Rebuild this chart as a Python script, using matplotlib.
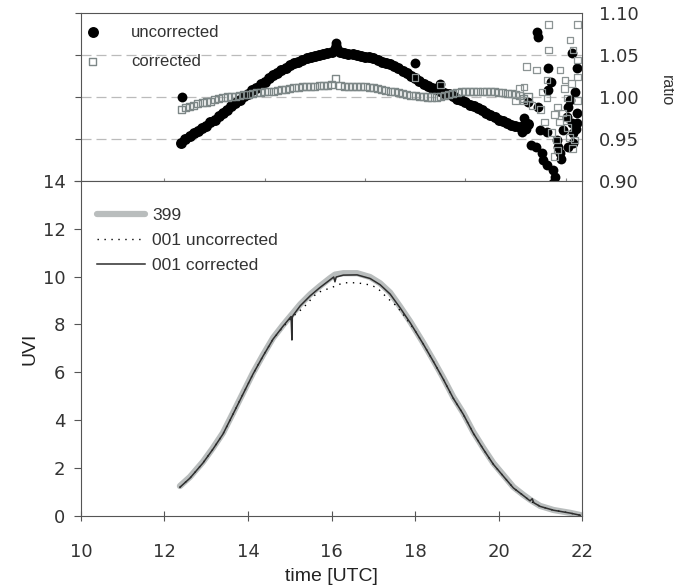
import matplotlib
matplotlib.use("Agg")
import matplotlib.pyplot as plt

# ---- ratio panel: smooth part, one reading every 0.1 h ----
t_ratio = [12.4, 12.5, 12.6, 12.7, 12.8, 12.9, 13.0, 13.1, 13.2, 13.3,
           13.4, 13.5, 13.6, 13.7, 13.8, 13.9, 14.0, 14.1, 14.2, 14.3,
           14.4, 14.5, 14.6, 14.7, 14.8, 14.9, 15.0, 15.1, 15.2, 15.3,
           15.4, 15.5, 15.6, 15.7, 15.8, 15.9, 16.0, 16.1, 16.2, 16.3,
           16.4, 16.5, 16.6, 16.7, 16.8, 16.9, 17.0, 17.1, 17.2, 17.3,
           17.4, 17.5, 17.6, 17.7, 17.8, 17.9, 18.0, 18.1, 18.2, 18.3,
           18.4, 18.5, 18.6, 18.7, 18.8, 18.9, 19.0, 19.1, 19.2, 19.3,
           19.4, 19.5, 19.6, 19.7, 19.8, 19.9, 20.0, 20.1, 20.2, 20.3,
           20.4, 20.5, 20.6, 20.7]
ratio_uncorr = [0.945, 0.950, 0.954, 0.957, 0.960, 0.963, 0.966, 0.970, 0.973, 0.977,
                0.981, 0.985, 0.989, 0.993, 0.997, 1.001, 1.004, 1.008, 1.011, 1.015,
                1.018, 1.022, 1.026, 1.029, 1.032, 1.035, 1.038, 1.040, 1.042, 1.044,
                1.046, 1.048, 1.049, 1.050, 1.051, 1.052, 1.053, 1.060, 1.054, 1.052,
                1.051, 1.051, 1.050, 1.049, 1.048, 1.047, 1.046, 1.044, 1.042, 1.041,
                1.039, 1.037, 1.034, 1.031, 1.028, 1.025, 1.022, 1.019, 1.016, 1.013,
                1.011, 1.009, 1.007, 1.005, 1.003, 1.001, 0.998, 0.996, 0.994, 0.991,
                0.989, 0.987, 0.984, 0.981, 0.978, 0.976, 0.973, 0.971, 0.969, 0.967,
                0.965, 0.964, 0.966, 0.968]
ratio_corr = [0.985, 0.987, 0.989, 0.990, 0.992, 0.993, 0.994, 0.995, 0.997, 0.998,
              0.999, 1.000, 1.001, 1.001, 1.002, 1.003, 1.003, 1.004, 1.005, 1.005,
              1.006, 1.007, 1.007, 1.008, 1.009, 1.009, 1.010, 1.011, 1.011, 1.012,
              1.012, 1.013, 1.013, 1.014, 1.014, 1.014, 1.015, 1.022, 1.014, 1.013,
              1.013, 1.013, 1.012, 1.012, 1.012, 1.011, 1.011, 1.010, 1.009, 1.008,
              1.007, 1.006, 1.005, 1.004, 1.003, 1.002, 1.002, 1.001, 1.001, 1.000,
              1.000, 1.000, 1.001, 1.002, 1.003, 1.004, 1.005, 1.006, 1.006, 1.007,
              1.007, 1.007, 1.007, 1.006, 1.006, 1.006, 1.005, 1.005, 1.004, 1.004,
              1.003, 1.002, 0.998, 1.000]

# scattered readings (outliers and the noisy end of the day)
t_unc_x = [12.42, 16.1, 18.0, 18.6, 20.55, 20.6, 20.65, 20.71, 20.78, 20.9,
           20.92, 20.95, 20.95, 20.99, 21.04, 21.07, 21.16, 21.16, 21.19, 21.19,
           21.24, 21.3, 21.3, 21.35, 21.4, 21.42, 21.47, 21.5, 21.54, 21.64,
           21.66, 21.66, 21.71, 21.76, 21.76, 21.78, 21.78, 21.83, 21.85, 21.88,
           21.88, 21.88]
r_unc_x = [1.000, 1.064, 1.040, 1.016, 0.958, 0.975, 0.962, 0.994, 0.943, 0.940,
           1.077, 1.071, 0.988, 0.961, 0.933, 0.925, 0.919, 0.958, 1.035, 1.008,
           1.018, 0.913, 0.898, 0.905, 0.949, 0.940, 0.933, 0.926, 0.961, 0.976,
           0.988, 0.940, 0.996, 0.969, 1.052, 0.957, 0.945, 1.006, 0.962, 1.035,
           0.981, 0.969]
t_cor_x = [18.0, 18.6, 20.4, 20.5, 20.59, 20.6, 20.66, 20.8, 20.9, 21.0,
           21.04, 21.1, 21.16, 21.16, 21.19, 21.19, 21.26, 21.33, 21.33, 21.38,
           21.4, 21.4, 21.45, 21.47, 21.52, 21.57, 21.59, 21.62, 21.64, 21.64,
           21.69, 21.71, 21.74, 21.76, 21.78, 21.81, 21.88, 21.88, 21.88, 21.88]
r_cor_x = [1.023, 1.014, 0.996, 1.010, 0.996, 1.012, 1.036, 0.990, 1.032, 0.985,
           1.006, 0.970, 1.020, 0.999, 1.086, 1.056, 0.958, 0.979, 0.929, 0.949,
           0.988, 0.937, 0.970, 1.032, 0.981, 1.010, 1.020, 0.975, 0.964, 0.999,
           0.952, 1.068, 1.016, 0.939, 1.056, 0.949, 1.086, 1.044, 0.996, 1.024]

# ---- UVI panel ----
t_399 = [12.37, 12.61, 12.92, 13.16, 13.40, 13.64, 13.88, 14.12, 14.36, 14.60,
         14.84, 15.05, 15.25, 15.49, 15.72, 15.96, 16.08, 16.28, 16.61, 16.92,
         17.16, 17.40, 17.64, 17.88, 18.00, 18.19, 18.43, 18.67, 18.91, 19.15,
         19.39, 19.63, 19.87, 20.11, 20.35, 20.59, 20.75, 20.99, 21.31, 21.71,
         21.95]
uvi_399 = [1.25, 1.63, 2.26, 2.84, 3.47, 4.30, 5.14, 5.98, 6.73, 7.44,
           7.98, 8.42, 8.84, 9.26, 9.60, 9.93, 10.08, 10.14, 10.14, 9.98,
           9.72, 9.33, 8.74, 8.12, 7.78, 7.24, 6.52, 5.77, 4.97, 4.30,
           3.51, 2.84, 2.21, 1.71, 1.21, 0.88, 0.68, 0.42, 0.25, 0.13,
           0.04]

t_001c = [12.37, 12.61, 12.92, 13.16, 13.40, 13.64, 13.88, 14.12, 14.36, 14.60,
          14.84, 15.03, 15.05, 15.06, 15.08, 15.25, 15.49, 15.72, 15.96, 16.05,
          16.08, 16.11, 16.28, 16.61, 16.92, 17.16, 17.40, 17.64, 17.88, 18.00,
          18.19, 18.43, 18.67, 18.91, 19.15, 19.39, 19.63, 19.87, 20.11, 20.35,
          20.59, 20.75, 20.80, 20.84, 20.99, 21.31, 21.71, 21.95]
uvi_001c = [1.20, 1.58, 2.21, 2.79, 3.42, 4.25, 5.09, 5.93, 6.68, 7.39,
            7.93, 8.33, 7.35, 8.30, 8.38, 8.78, 9.20, 9.54, 9.86, 9.98,
            9.78, 9.98, 10.06, 10.07, 9.92, 9.66, 9.27, 8.69, 8.07, 7.73,
            7.19, 6.47, 5.72, 4.92, 4.25, 3.46, 2.79, 2.16, 1.66, 1.17,
            0.85, 0.63, 0.72, 0.55, 0.40, 0.24, 0.12, 0.03]

t_001u = [12.37, 12.61, 12.92, 13.16, 13.40, 13.64, 13.88, 14.12, 14.36, 14.60,
          14.84, 15.05, 15.32, 15.65, 16.04, 16.28, 16.61, 16.92, 17.09, 17.33,
          17.52, 17.69, 17.81, 18.00, 18.19, 18.43, 18.67, 18.91, 19.15, 19.39,
          19.63, 19.87, 20.11, 20.35, 20.59, 20.75, 20.99, 21.31, 21.71, 21.95]
uvi_001u = [1.20, 1.58, 2.21, 2.79, 3.42, 4.25, 5.09, 5.93, 6.68, 7.39,
            7.90, 8.30, 8.69, 9.32, 9.57, 9.74, 9.74, 9.65, 9.53, 9.11,
            8.82, 8.48, 8.19, 7.73, 7.19, 6.47, 5.72, 4.92, 4.25, 3.46,
            2.79, 2.16, 1.66, 1.17, 0.85, 0.63, 0.40, 0.24, 0.12, 0.03]

grey_txt = "#333333"
spine_c = "#555555"

fig = plt.figure(figsize=(6.74, 5.86), dpi=100)

# top: ratio
ax1 = fig.add_axes([0.120, 0.691, 0.744, 0.287])
for y in [0.95, 1.00, 1.05]:
    ax1.axhline(y, color="#bbbbbb", lw=0.9, ls=(0, (8, 4)), zorder=0)
ax1.scatter(t_ratio, ratio_uncorr, s=62, c="black", lw=0, zorder=2,
            label="uncorrected")
ax1.scatter(t_unc_x, r_unc_x, s=50, c="black", lw=0, zorder=2)
ax1.scatter(t_ratio, ratio_corr, s=26, marker="s", facecolors="none",
            edgecolors="#7d8787", lw=1.0, zorder=3, label="corrected")
ax1.scatter(t_cor_x, r_cor_x, s=22, marker="s", facecolors="none",
            edgecolors="#8c9494", lw=0.9, zorder=3)
ax1.set_xlim(10, 22)
ax1.set_ylim(0.90, 1.10)
ax1.set_xticks([12.0, 14.4, 16.8, 19.2, 21.6])
ax1.set_xticklabels([])
ax1.tick_params(axis="x", direction="inout", length=4, color="#888888")
ax1.set_yticks([0.90, 0.95, 1.00, 1.05, 1.10])
ax1.set_yticklabels(["0.90", "0.95", "1.00", "1.05", "1.10"])
ax1.tick_params(axis="y", left=True, right=False, labelleft=False,
                labelright=True, direction="out", length=4, color=spine_c,
                labelsize=13, labelcolor=grey_txt, pad=8)
for s in ax1.spines.values():
    s.set_color(spine_c)
leg1 = ax1.legend(loc="upper left", frameon=False, handlelength=1.0,
                  handletextpad=1.78, labelspacing=0.85, borderpad=0.2,
                  borderaxespad=0.5, scatterpoints=1,
                  bbox_to_anchor=(-0.016, 1.0),
                  prop={"family": "Liberation Sans", "size": 12})
for tx in leg1.get_texts():
    tx.set_color(grey_txt)
fig.text(0.988, 0.846, "ratio", rotation=-90, ha="center", va="center",
         fontsize=11.5, color=grey_txt, family="Liberation Sans")

# bottom: UVI
ax2 = fig.add_axes([0.120, 0.1195, 0.744, 0.572])
ax2.plot(t_399, uvi_399, color="#b9bdbd", lw=4.5, label="399",
         solid_capstyle="round", zorder=1)
ax2.plot(t_001u, uvi_001u, color="black", lw=1.0, ls=(0, (1, 4)),
         label="001 uncorrected", zorder=2)
ax2.plot(t_001c, uvi_001c, color="#2e2e2e", lw=1.1, label="001 corrected",
         zorder=3)
ax2.set_xlim(10, 22)
ax2.set_ylim(0, 14)
ax2.set_xticks([10, 12, 14, 16, 18, 20, 22])
ax2.set_yticks([0, 2, 4, 6, 8, 10, 12, 14])
ax2.tick_params(axis="x", direction="inout", length=7, color=spine_c,
                labelsize=13, labelcolor=grey_txt, pad=16)
ax2.tick_params(axis="y", direction="out", length=5, color=spine_c,
                labelsize=13, labelcolor=grey_txt, pad=6)
for s in ax2.spines.values():
    s.set_color(spine_c)
ax2.set_xlabel("time [UTC]", fontsize=14, color="#222222",
               family="Liberation Sans", labelpad=5)
ax2.set_ylabel("UVI", fontsize=14, color="#222222",
               family="Liberation Sans", labelpad=3)
leg2 = ax2.legend(loc="upper left", frameon=False, handlelength=2.8,
                  handletextpad=0.4, labelspacing=0.55,
                  bbox_to_anchor=(0.0, 0.965),
                  prop={"family": "Liberation Sans", "size": 12.5})
for tx in leg2.get_texts():
    tx.set_color(grey_txt)

fig.savefig("out.png", dpi=100)
